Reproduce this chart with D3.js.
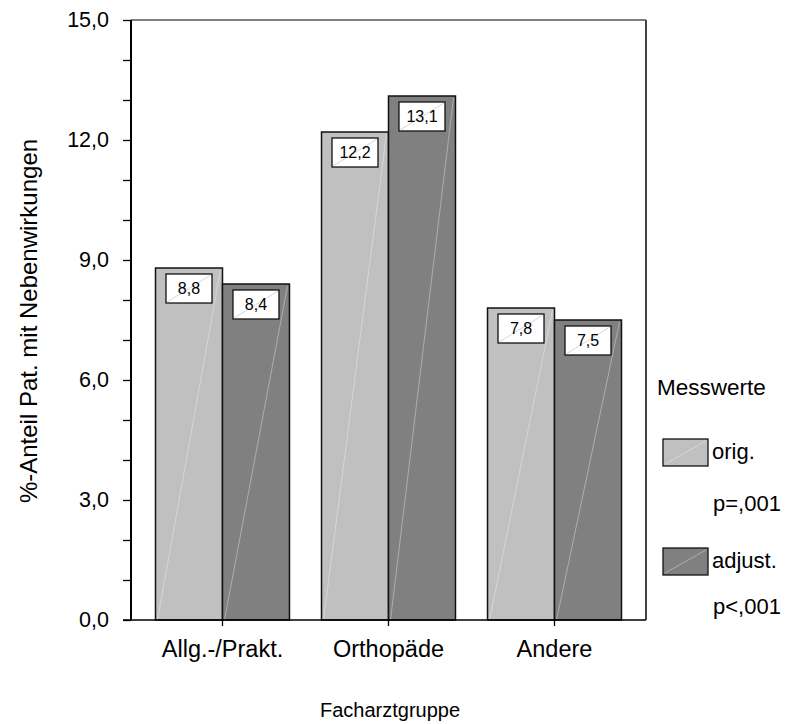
<!DOCTYPE html>
<html><head><meta charset="utf-8">
<script src="https://cdn.jsdelivr.net/npm/d3@7"></script>
<style>body{margin:0;background:#fff}svg{display:block}text{font-family:"Liberation Sans",Arial,sans-serif;fill:#000}</style>
</head><body>
<script>
const categories = ["Allg.-/Prakt.", "Orthopäde", "Andere"];
const seriesNames = ["orig.", "adjust."];
const pValues = ["p=,001", "p<,001"];
const origValues = [8.8, 12.2, 7.8];
const adjustValues = [8.4, 13.1, 7.5];
const yTicks = [0, 3, 6, 9, 12, 15];
const colors = ["#c0c0c0", "#808080"];

(function () {
const W = 785, H = 724;
const FF = "Liberation Sans, Arial, sans-serif";
const svg = d3.select("body").append("svg").attr("width", W).attr("height", H);

const pL = 131, pR = 646, pT = 20, pB = 620;
const y = d3.scaleLinear().domain([0, 15]).range([pB, pT]);
const x = d3.scaleBand().domain(categories).range([pL, pR]).paddingInner(0.193).paddingOuter(0.1476);
const xs = d3.scaleBand().domain(seriesNames).range([0, x.bandwidth()]);

const fmt = v => d3.format(".1f")(v).replace(".", ",");

// frame top & right
svg.append("line").attr("x1", pL).attr("x2", pR).attr("y1", pT).attr("y2", pT).attr("stroke", "#555").attr("stroke-width", 1.5);
svg.append("line").attr("x1", pR).attr("x2", pR).attr("y1", pT).attr("y2", pB).attr("stroke", "#444").attr("stroke-width", 2);

// bars
const data = categories.map((c, i) => ({c, vals: [origValues[i], adjustValues[i]]}));
const g = svg.append("g");
data.forEach(d => {
  d.vals.forEach((v, j) => {
    const bx = x(d.c) + xs(seriesNames[j]);
    const bw = xs.bandwidth();
    g.append("rect").attr("x", bx).attr("y", y(v)).attr("width", bw).attr("height", y(0) - y(v))
      .attr("fill", colors[j]).attr("stroke", "#111").attr("stroke-width", 1.5);
    g.append("line").attr("x1", bx + 2).attr("y1", y(0)).attr("x2", bx + bw - 2).attr("y2", y(v) + 2)
      .attr("stroke", "#fff").attr("stroke-opacity", 0.35).attr("stroke-width", 1);
    const boxW = 46, boxH = 29;
    const cx = bx + bw / 2;
    const by = y(v) + 6;
    g.append("rect").attr("x", cx - boxW / 2).attr("y", by).attr("width", boxW).attr("height", boxH)
      .attr("fill", "#fff").attr("stroke", "#111").attr("stroke-width", 1.3);
    g.append("line").attr("x1", cx - boxW / 2 + 1).attr("y1", by + boxH - 1).attr("x2", cx + boxW / 2 - 1).attr("y2", by + 1)
      .attr("stroke", "#ccc").attr("stroke-width", 0.8);
    g.append("text").attr("x", cx).attr("y", by + 20).attr("text-anchor", "middle")
      .attr("font-size", 16).text(fmt(v));
  });
});

// y axis
const yAxis = d3.axisLeft(y).tickValues(d3.range(0, 16, 1)).tickSize(8).tickFormat(v => yTicks.includes(v) ? fmt(v) : "").tickPadding(14);
const ya = svg.append("g").attr("transform", `translate(${pL},0)`).call(yAxis);
ya.select(".domain").attr("stroke", "#000").attr("stroke-width", 2).attr("d", `M0,${pT}V${pB}`);
ya.selectAll(".tick line").attr("stroke", "#000").attr("stroke-width", 1.3);
ya.selectAll(".tick text").attr("font-size", 21.5).attr("font-family", FF).attr("fill", "#000");

// x axis
const xAxis = d3.axisBottom(x).tickSize(6).tickPadding(0);
const xa = svg.append("g").attr("transform", `translate(0,${pB})`).call(xAxis);
xa.select(".domain").attr("stroke", "#000").attr("stroke-width", 1.5).attr("d", `M${pL - 8},0H${pR}`);
xa.selectAll(".tick line").attr("stroke", "#000").attr("stroke-width", 1.3);
xa.selectAll(".tick text").attr("font-size", 23.5).attr("font-family", FF).attr("fill", "#000")
  .attr("y", 37).attr("dy", null);

// axis titles
svg.append("text").attr("x", 390).attr("y", 717).attr("text-anchor", "middle").attr("font-size", 20).text("Facharztgruppe");
svg.append("text").attr("transform", "translate(37,321) rotate(-90)").attr("text-anchor", "middle").attr("font-size", 24)
  .text("%-Anteil Pat. mit Nebenwirkungen");

// legend
svg.append("text").attr("x", 657).attr("y", 395).attr("font-size", 22.5).text("Messwerte");
const legY = [439, 548];
const labY = [459, 568];
const pY = [511, 614];
seriesNames.forEach((s, j) => {
  const ly = legY[j];
  svg.append("rect").attr("x", 663).attr("y", ly).attr("width", 45).attr("height", 27)
    .attr("fill", colors[j]).attr("stroke", "#111").attr("stroke-width", 1.3);
  svg.append("line").attr("x1", 665).attr("y1", ly + 25).attr("x2", 706).attr("y2", ly + 2)
    .attr("stroke", "#fff").attr("stroke-opacity", 0.35);
  svg.append("text").attr("x", 712).attr("y", labY[j]).attr("font-size", 22).text(s);
  svg.append("text").attr("x", 713).attr("y", pY[j]).attr("font-size", 22).text(pValues[j]);
});
})();
</script>
</body></html>
